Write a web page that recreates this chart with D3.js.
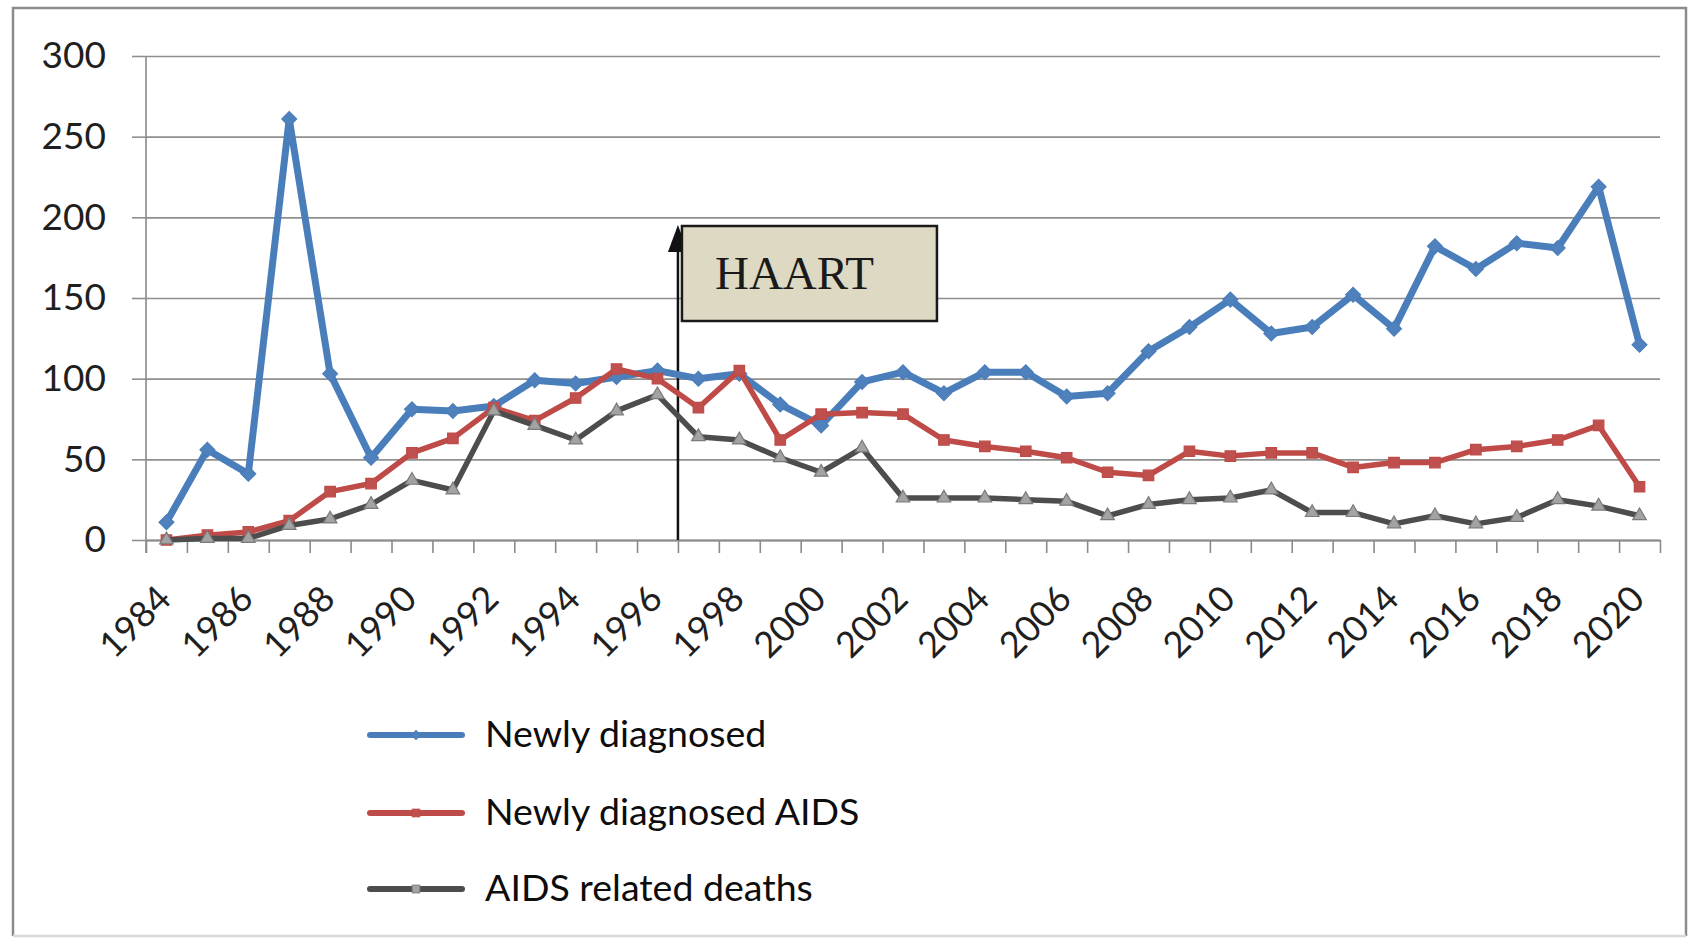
<!DOCTYPE html>
<html>
<head>
<meta charset="utf-8">
<script src="https://cdnjs.cloudflare.com/ajax/libs/d3/7.8.5/d3.min.js"></script>
<style>
body { margin: 0; background: #fff; }
</style>
</head>
<body>
<div id="chart"></div>
<script>

// data
var years = [1984, 1985, 1986, 1987, 1988, 1989, 1990, 1991, 1992, 1993, 1994, 1995, 1996,
    1997, 1998, 1999, 2000, 2001, 2002, 2003, 2004, 2005, 2006, 2007, 2008, 2009, 2010,
    2011, 2012, 2013, 2014, 2015, 2016, 2017, 2018, 2019, 2020];
var newly_diagnosed = [11, 56, 41, 261, 103, 51, 81, 80, 83, 99, 97, 101, 105,
    100, 103, 84, 71, 98, 104, 91, 104, 104, 89, 91, 117, 132, 149,
    128, 132, 152, 131, 182, 168, 184, 181, 219, 121];
var newly_aids = [0, 3, 5, 12, 30, 35, 54, 63, 82, 74, 88, 106, 100,
    82, 105, 62, 78, 79, 78, 62, 58, 55, 51, 42, 40, 55, 52,
    54, 54, 45, 48, 48, 56, 58, 62, 71, 33];
var aids_deaths = [0, 1, 1, 9, 13, 22, 37, 31, 80, 71, 62, 80, 90,
    64, 62, 51, 42, 57, 26, 26, 26, 25, 24, 15, 22, 25, 26,
    31, 17, 17, 10, 15, 10, 14, 25, 21, 15];
var label_years = [1984, 1986, 1988, 1990, 1992, 1994, 1996, 1998, 2000, 2002,
    2004, 2006, 2008, 2010, 2012, 2014, 2016, 2018, 2020];
var y_ticks = [0, 50, 100, 150, 200, 250, 300];
var series_names = ["Newly diagnosed", "Newly diagnosed AIDS", "AIDS related deaths"];
var haart_year = 1997;

var W = 1704, H = 944;
var plot = { left: 146, right: 1660, top: 56, bottom: 540 };
var tickFont = "Lato, 'Open Sans', sans-serif";

var svg = d3.select("#chart")
    .append("svg")
    .attr("width", W)
    .attr("height", H)
    .style("background", "#fff");

// outer frame (bottom edge is only faint in the original)
svg.append("path")
    .attr("d", "M13,936 V8 H1686 V936")
    .attr("fill", "none")
    .attr("stroke", "#8c8c8c")
    .attr("stroke-width", 2.5);
svg.append("line")
    .attr("x1", 13).attr("x2", 1686)
    .attr("y1", 936).attr("y2", 936)
    .attr("stroke", "#d9d9d9")
    .attr("stroke-width", 2.5);

var x = d3.scaleBand().domain(years).range([plot.left, plot.right]);
var xb = d3.scaleLinear().domain([1984, 2021]).range([plot.left, plot.right]);
var y = d3.scaleLinear().domain([0, 300]).range([plot.bottom, plot.top]);
var bw = x.bandwidth();

// gridlines
svg.append("g")
    .attr("class", "grid")
    .attr("transform", "translate(" + plot.left + ",0)")
    .call(d3.axisLeft(y).tickValues(y_ticks).tickSize(-(plot.right - plot.left)).tickFormat(""))
    .call(function (g) { g.select(".domain").remove(); })
    .selectAll("line")
    .attr("stroke", "#8f8f8f")
    .attr("stroke-width", 1.6);

// y axis with labels
var yAxis = svg.append("g")
    .attr("transform", "translate(" + plot.left + ",0)")
    .call(d3.axisLeft(y).tickValues(y_ticks).tickSize(14).tickSizeOuter(0).tickPadding(26));
yAxis.select(".domain").attr("stroke", "#8a8a8a").attr("stroke-width", 1.6)
    .attr("d", "M0," + plot.top + "V" + (plot.bottom + 13));
yAxis.selectAll("line").attr("stroke", "#8f8f8f").attr("stroke-width", 1.6);
yAxis.selectAll("text")
    .style("font-family", tickFont)
    .style("font-size", "37px")
    .attr("fill", "#1f1f1f");

// x axis ticks at category boundaries
var xTicks = svg.append("g")
    .attr("transform", "translate(0," + plot.bottom + ")")
    .call(d3.axisBottom(xb).tickValues(years.concat([2021])).tickSize(13).tickSizeOuter(0).tickFormat(""));
xTicks.select(".domain").attr("stroke", "#8a8a8a").attr("stroke-width", 1.8);
xTicks.selectAll("line").attr("stroke", "#8a8a8a").attr("stroke-width", 1.6);

// x labels, rotated
var xLabels = svg.append("g")
    .attr("transform", "translate(0," + plot.bottom + ")")
    .call(d3.axisBottom(x).tickValues(label_years).tickSize(0));
xLabels.select(".domain").remove();
xLabels.selectAll("text")
    .attr("x", 0).attr("y", 0).attr("dy", "0.35em")
    .attr("transform", "translate(-2,52) rotate(-45)")
    .style("text-anchor", "end")
    .style("font-family", tickFont)
    .style("font-size", "36px")
    .attr("fill", "#1f1f1f");

// HAART marker (line + arrow + box)
var hx = xb(haart_year);
svg.append("line")
    .attr("x1", hx).attr("x2", hx)
    .attr("y1", y(0)).attr("y2", 236)
    .attr("stroke", "#111").attr("stroke-width", 2.5);
svg.append("path")
    .attr("d", "M" + hx + ",225 L" + (hx - 10) + ",252 L" + (hx + 10) + ",252 Z")
    .attr("fill", "#111");

// series
var series = [
    { name: series_names[0], values: newly_diagnosed, color: "#4a7ebb", mfill: "#4f81bd", mstroke: "#4a7ebb", symbol: d3.symbolSquare, size: 110, rot: 45, width: 7 },
    { name: series_names[1], values: newly_aids, color: "#be4b48", mfill: "#c0504d", mstroke: "#be4b48", symbol: d3.symbolSquare, size: 110, rot: 0, width: 5.5 },
    { name: series_names[2], values: aids_deaths, color: "#4d4d4d", mfill: "#a3a3a3", mstroke: "#7a7a7a", symbol: d3.symbolTriangle, size: 80, rot: 0, width: 5.5 }
];

var line = d3.line()
    .x(function (d, i) { return x(years[i]) + bw / 2; })
    .y(function (d) { return y(d); });

series.forEach(function (s) {
    svg.append("path")
        .datum(s.values)
        .attr("d", line)
        .attr("fill", "none")
        .attr("stroke", s.color)
        .attr("stroke-width", s.width)
        .attr("stroke-linejoin", "round");
    svg.append("g")
        .selectAll("path")
        .data(s.values)
        .enter()
        .append("path")
        .attr("d", d3.symbol().type(s.symbol).size(s.size))
        .attr("transform", function (d, i) {
            return "translate(" + (x(years[i]) + bw / 2) + "," + y(d) + ") rotate(" + s.rot + ")";
        })
        .attr("fill", s.mfill)
        .attr("stroke", s.mstroke)
        .attr("stroke-width", 1.2);
});

// HAART box drawn on top
svg.append("rect")
    .attr("x", hx + 4).attr("y", 226)
    .attr("width", 255).attr("height", 95)
    .attr("fill", "#ddd9c3")
    .attr("stroke", "#1a1a1a")
    .attr("stroke-width", 2.5);
svg.append("text")
    .attr("x", hx + 37).attr("y", 289)
    .text("HAART")
    .style("font-family", "'Liberation Serif', 'DejaVu Serif', serif")
    .style("font-size", "47px")
    .attr("fill", "#1a1a1a");

// legend
var legend = svg.append("g");
var legendY = [735, 813, 889];
series.forEach(function (s, i) {
    legend.append("line")
        .attr("x1", 370).attr("x2", 462)
        .attr("y1", legendY[i]).attr("y2", legendY[i])
        .attr("stroke", s.color)
        .attr("stroke-width", 6)
        .attr("stroke-linecap", "round");
    legend.append("path")
        .attr("d", d3.symbol().type(i == 2 ? d3.symbolSquare : s.symbol).size(i == 0 ? 40 : 60))
        .attr("transform", "translate(416," + legendY[i] + ") rotate(" + s.rot + ")")
        .attr("fill", s.mfill)
        .attr("stroke", s.mstroke)
        .attr("stroke-width", 1);
    legend.append("text")
        .attr("x", 485).attr("y", legendY[i] + 12)
        .text(s.name)
        .style("font-family", tickFont)
        .style("font-size", "37.5px")
        .attr("fill", "#0d0d0d");
});

</script>
</body>
</html>
